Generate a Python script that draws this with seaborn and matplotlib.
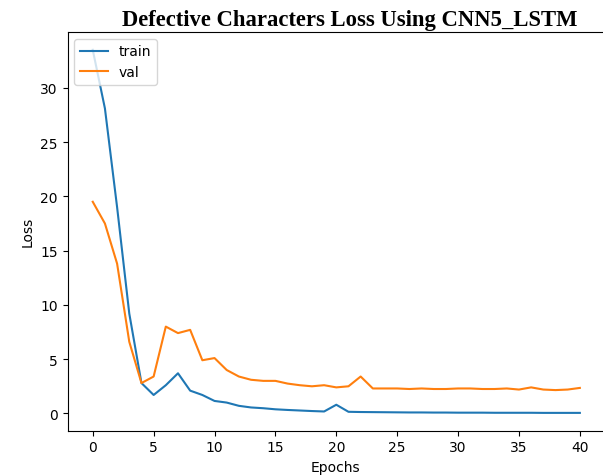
import matplotlib
matplotlib.use("Agg")
import matplotlib.pyplot as plt
import seaborn as sns
import pandas as pd
import numpy as np

epochs = list(range(41))
train = [33.5, 28.1, 19.0, 9.2, 2.8, 1.7, 2.6, 3.7, 2.1, 1.7, 1.15, 1.0, 0.7, 0.55, 0.48, 0.38,
         0.32, 0.27, 0.22, 0.18, 0.8, 0.15, 0.13, 0.12, 0.11, 0.1, 0.09, 0.09, 0.08, 0.08, 0.07,
         0.07, 0.07, 0.06, 0.06, 0.06, 0.06, 0.05, 0.05, 0.05, 0.05]
val = [19.5, 17.5, 13.8, 6.6, 2.8, 3.4, 8.0, 7.4, 7.7, 4.9, 5.1, 4.0, 3.4, 3.1, 3.0, 3.0,
       2.75, 2.6, 2.5, 2.6, 2.4, 2.5, 3.4, 2.3, 2.3, 2.3, 2.25, 2.3, 2.25, 2.25, 2.3,
       2.3, 2.25, 2.25, 2.3, 2.2, 2.4, 2.2, 2.15, 2.2, 2.35]

df = pd.DataFrame({"Epochs": epochs * 2,
                   "Loss": train + val,
                   "series": ["train"] * 41 + ["val"] * 41})

plt.rcParams['font.family'] = ['DejaVu Sans']
fig = plt.figure(figsize=(6.03, 4.77), dpi=100)
ax = fig.add_axes([0.112, 0.095, 0.89, 0.836])
sns.lineplot(data=df, x="Epochs", y="Loss", hue="series",
             palette=["#1f77b4", "#ff7f0e"], ax=ax, linewidth=1.5)
ax.set_xticks([0, 5, 10, 15, 20, 25, 30, 35, 40])
ax.set_yticks([0, 5, 10, 15, 20, 25, 30])
ax.set_xlim(-2.07, 42)
ax.set_ylim(-1.59, 35.15)
ax.tick_params(labelsize=10)
ax.set_xlabel("Epochs", fontsize=10)
ax.set_ylabel("Loss", fontsize=10)
ax.legend(title=None, loc="upper left", fontsize=10)
ax.set_title("Defective Characters Loss Using CNN5_LSTM", fontsize=16.3,
             fontweight="bold", family="Liberation Serif", pad=5, x=0.525)
fig.savefig("out.png", dpi=100)
